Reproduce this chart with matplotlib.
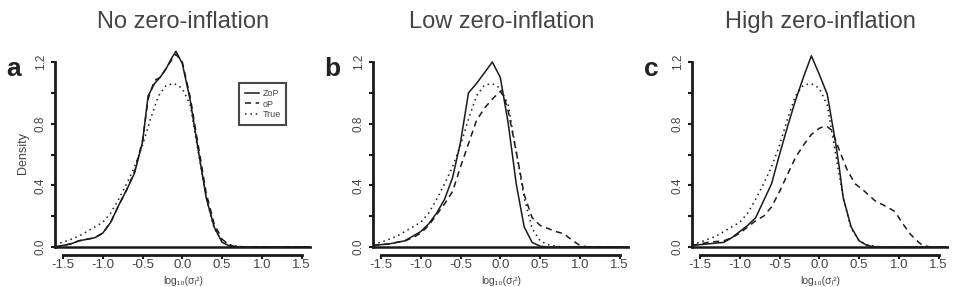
import matplotlib.pyplot as plt
import numpy as np

plt.rcParams['font.family'] = ['Liberation Sans', 'DejaVu Sans']

titles = ['No zero-inflation', 'Low zero-inflation', 'High zero-inflation']
letters = ['a', 'b', 'c']

# true density (same in all panels)
true_x = [-1.6, -1.5, -1.4, -1.3, -1.2, -1.1, -1.0, -0.9, -0.8, -0.7, -0.6, -0.5, -0.4,
          -0.3, -0.2, -0.1, 0.0, 0.1, 0.2, 0.3, 0.4, 0.5, 0.6, 0.7, 0.8, 1.0, 1.6]
true_y = [0.02, 0.03, 0.05, 0.07, 0.10, 0.13, 0.16, 0.22, 0.31, 0.41, 0.52, 0.66, 0.83,
          0.98, 1.05, 1.06, 1.03, 0.92, 0.62, 0.32, 0.12, 0.04, 0.015, 0.005, 0.0, 0.0, 0.0]

# panel a
zop_a_x = [-1.6, -1.5, -1.4, -1.3, -1.2, -1.1, -1.0, -0.9, -0.8, -0.7, -0.6, -0.5, -0.43,
           -0.35, -0.28, -0.2, -0.14, -0.08, 0.0, 0.1, 0.2, 0.3, 0.4, 0.5, 0.6, 0.7, 1.6]
zop_a_y = [0.0, 0.01, 0.02, 0.04, 0.05, 0.06, 0.09, 0.16, 0.27, 0.37, 0.48, 0.68, 0.98,
           1.06, 1.1, 1.16, 1.22, 1.27, 1.19, 0.95, 0.63, 0.32, 0.13, 0.03, 0.005, 0.0, 0.0]
op_a_x = [-1.6, -1.5, -1.4, -1.3, -1.2, -1.1, -1.0, -0.9, -0.8, -0.7, -0.6, -0.5, -0.43,
          -0.35, -0.28, -0.2, -0.14, -0.08, 0.0, 0.1, 0.2, 0.3, 0.4, 0.5, 0.6, 0.7, 1.6]
op_a_y = [0.0, 0.01, 0.02, 0.04, 0.05, 0.06, 0.09, 0.16, 0.27, 0.37, 0.49, 0.69, 0.96,
          1.08, 1.1, 1.16, 1.21, 1.25, 1.2, 0.97, 0.66, 0.35, 0.15, 0.05, 0.01, 0.0, 0.0]

# panel b
zop_b_x = [-1.6, -1.5, -1.4, -1.3, -1.2, -1.1, -1.0, -0.9, -0.8, -0.7, -0.6, -0.5, -0.4,
           -0.3, -0.2, -0.1, 0.0, 0.1, 0.2, 0.3, 0.4, 0.5, 0.6, 1.6]
zop_b_y = [0.01, 0.015, 0.02, 0.03, 0.04, 0.07, 0.1, 0.15, 0.22, 0.31, 0.45, 0.68, 1.0,
           1.06, 1.13, 1.2, 1.1, 0.8, 0.41, 0.13, 0.03, 0.005, 0.0, 0.0]
op_b_x = [-1.6, -1.5, -1.4, -1.3, -1.2, -1.1, -1.0, -0.9, -0.8, -0.7, -0.6, -0.5, -0.4,
          -0.3, -0.2, -0.1, 0.0, 0.05, 0.1, 0.2, 0.3, 0.4, 0.5, 0.6, 0.7, 0.8, 0.9, 1.0,
          1.1, 1.6]
op_b_y = [0.01, 0.015, 0.02, 0.03, 0.04, 0.06, 0.09, 0.14, 0.21, 0.28, 0.36, 0.52, 0.67,
          0.82, 0.9, 0.96, 1.01, 0.97, 0.88, 0.62, 0.34, 0.19, 0.14, 0.12, 0.1, 0.085,
          0.045, 0.01, 0.0, 0.0]

# panel c
zop_c_x = [-1.6, -1.5, -1.4, -1.3, -1.2, -1.1, -1.0, -0.9, -0.8, -0.7, -0.6, -0.5, -0.4,
           -0.3, -0.2, -0.1, 0.0, 0.1, 0.2, 0.25, 0.3, 0.4, 0.5, 0.6, 0.7, 1.6]
zop_c_y = [0.01, 0.015, 0.02, 0.025, 0.03, 0.06, 0.1, 0.14, 0.19, 0.3, 0.41, 0.6, 0.78,
           0.95, 1.1, 1.24, 1.12, 0.99, 0.69, 0.52, 0.32, 0.13, 0.04, 0.01, 0.0, 0.0]
op_c_x = [-1.6, -1.5, -1.4, -1.3, -1.2, -1.1, -1.0, -0.9, -0.8, -0.7, -0.6, -0.5, -0.4,
          -0.3, -0.2, -0.1, 0.0, 0.05, 0.1, 0.15, 0.2, 0.25, 0.35, 0.45, 0.55, 0.7, 0.85,
          0.95, 1.05, 1.15, 1.25, 1.3, 1.4, 1.6]
op_c_y = [0.01, 0.02, 0.03, 0.035, 0.04, 0.06, 0.09, 0.13, 0.17, 0.2, 0.26, 0.36, 0.47,
          0.58, 0.66, 0.73, 0.77, 0.78, 0.78, 0.76, 0.7, 0.63, 0.5, 0.41, 0.37, 0.3, 0.26,
          0.23, 0.15, 0.08, 0.03, 0.01, 0.0, 0.0]

zop = [(zop_a_x, zop_a_y), (zop_b_x, zop_b_y), (zop_c_x, zop_c_y)]
op = [(op_a_x, op_a_y), (op_b_x, op_b_y), (op_c_x, op_c_y)]

xticks = [-1.5, -1.0, -0.5, 0.0, 0.5, 1.0, 1.5]
yticks = [0.0, 0.2, 0.4, 0.6, 0.8, 1.0, 1.2]

W, H = 962, 287
fig = plt.figure(figsize=(W / 100, H / 100), dpi=100)
lefts = [55, 373, 692]
txt = '#444444'
lc = '#1a1a1a'

for i in range(3):
    ax = fig.add_axes([lefts[i] / W, (H - 255) / H, 257 / W, 205 / H])
    ax.set_xlim(-1.6, 1.63)
    ax.set_ylim(-0.052, 1.278)
    ax.axhline(0, color=lc, lw=1.8)
    ax.plot(zop[i][0], zop[i][1], color=lc, lw=1.1, label='ZoP')
    ax.plot(op[i][0], op[i][1], color=lc, lw=1.1, ls=(0, (4, 3)), label='oP')
    ax.plot(true_x, true_y, color=lc, lw=1.1, ls=(0, (1, 2.5)), label='True')

    for s in ['top', 'right']:
        ax.spines[s].set_visible(False)
    ax.spines['left'].set_bounds(0, 1.2)
    ax.spines['bottom'].set_bounds(-1.5, 1.5)
    ax.spines['left'].set_linewidth(2)
    ax.spines['bottom'].set_linewidth(2)
    ax.spines['left'].set_color(lc)
    ax.spines['bottom'].set_color(lc)
    ax.set_xticks(xticks)
    ax.set_xticklabels(['%.1f' % v for v in xticks])
    ax.set_yticks(yticks)
    ax.set_yticklabels(['%.1f' % v if k % 2 == 0 else '' for k, v in enumerate(yticks)],
                       rotation=90, va='center')
    ax.tick_params(axis='x', length=3, width=1.5, pad=0, labelsize=9.5, labelcolor=txt,
                   color=lc)
    ax.tick_params(axis='y', length=3, width=1.5, pad=3, labelsize=8.5, labelcolor=txt,
                   color=lc)
    ax.set_xlabel('log₁₀(σᵢ²)', fontsize=7.5, color=txt, va='bottom',
                  family=['Liberation Sans', 'DejaVu Sans'])
    ax.xaxis.set_label_coords(0.5, -31 / 205)
    ax.set_title(titles[i], fontsize=17, color=txt, pad=16)
    ax.text(-0.16, 0.905, letters[i], transform=ax.transAxes, fontsize=19,
            fontweight='bold', color='#222222', ha='center', va='center')
    if i == 0:
        ax.set_ylabel('Density', fontsize=9, color=txt, labelpad=4)
        leg = ax.legend(loc='upper right', bbox_to_anchor=(0.918, 0.859), fontsize=6.5,
                        handlelength=1.6, frameon=True, fancybox=False,
                        borderpad=0.6, labelspacing=0.2, handletextpad=0.4)
        leg.get_frame().set_edgecolor(lc)
        leg.get_frame().set_linewidth(1.5)
        for t in leg.get_texts():
            t.set_color(txt)

fig.savefig('out.png', dpi=100)
